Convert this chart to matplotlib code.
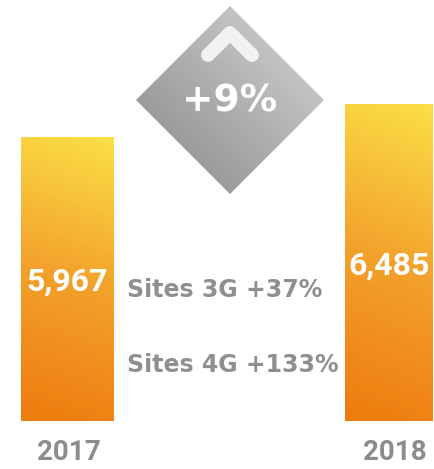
import numpy as np
import matplotlib.pyplot as plt
from matplotlib.colors import LinearSegmentedColormap
from matplotlib.patches import Polygon

# data
years = ['2017', '2018']
sites = [5967, 6485]
labels = ['5,967', '6,485']
growth = '+9%'
notes = ['Sites 3G +37%', 'Sites 4G +133%']

W, H = 434, 469
fig = plt.figure(figsize=(W / 100, H / 100), dpi=100)

# bars axes (baseline at y=421 px from top)
ax = fig.add_axes([0, 48 / H, 1, 421 / H])
ax.set_xlim(0, W)
ax.set_ylim(1509, 8118)
ax.axis('off')

bar_x = [67.5, 389]
bar_w = [93, 88]
orange = LinearSegmentedColormap.from_list('orng', ['#EE7B0E', '#F3A12C', '#FBDF46'])
bars = ax.bar(bar_x, sites, width=bar_w, color='none', edgecolor='none')
for b, lab in zip(bars, labels):
    x0, x1 = b.get_x(), b.get_x() + b.get_width()
    y0, y1 = ax.get_ylim()[0], b.get_height()
    yy, xx = np.mgrid[0:1:200j, 0:1:50j]
    grad = np.clip(yy * 0.9 + xx * 0.1, 0, 1)
    im = ax.imshow(grad, cmap=orange, origin='lower', aspect='auto',
                   extent=(x0, x1, y0, y1), interpolation='bilinear')
    im.set_clip_path(b)
    ax.text((x0 + x1) / 2, y0 + (y1 - y0) * 0.49, lab, color='white',
            fontsize=23, fontweight='bold', family='Roboto',
            ha='center', va='center')

# overlay in pixel coordinates
ov = fig.add_axes([0, 0, 1, 1], zorder=3)
ov.set_xlim(0, W)
ov.set_ylim(H, 0)
ov.axis('off')
ov.patch.set_alpha(0)

cx, cy, r = 230, 100, 94
diamond = Polygon([(cx, cy - r), (cx + r, cy), (cx, cy + r), (cx - r, cy)],
                  closed=True, facecolor='none', edgecolor='none')
ov.add_patch(diamond)
gx, gy = np.meshgrid(np.linspace(0, 1, 100), np.linspace(0, 1, 100))
gz = (gx - gy + 1) / 2
grey = LinearSegmentedColormap.from_list('grey', ['#888888', '#D6D6D6'])
gim = ov.imshow(gz, cmap=grey, origin='upper', aspect='auto',
                extent=(cx - r, cx + r, cy + r, cy - r), interpolation='bilinear')
gim.set_clip_path(diamond)
ov.plot([208, 230, 252], [55, 33, 55], color='#F2F2F2', lw=10,
        solid_capstyle='round', solid_joinstyle='round')
ov.text(cx, cy + 2, growth, color='white', fontsize=27, fontweight='bold',
        ha='center', va='center')

ov.text(69, 453, years[0], color='#8C8C8C', fontsize=20, fontweight='bold',
        family='Roboto', ha='center', va='center')
ov.text(395, 452, years[1], color='#8C8C8C', fontsize=20, fontweight='bold',
        family='Roboto', ha='center', va='center')

ov.text(127, 290, notes[0], color='#8F8F8F', fontsize=17, fontweight='bold',
        ha='left', va='center')
ov.text(127, 365, notes[1], color='#8F8F8F', fontsize=17, fontweight='bold',
        ha='left', va='center')

fig.savefig('out.png', dpi=100)
